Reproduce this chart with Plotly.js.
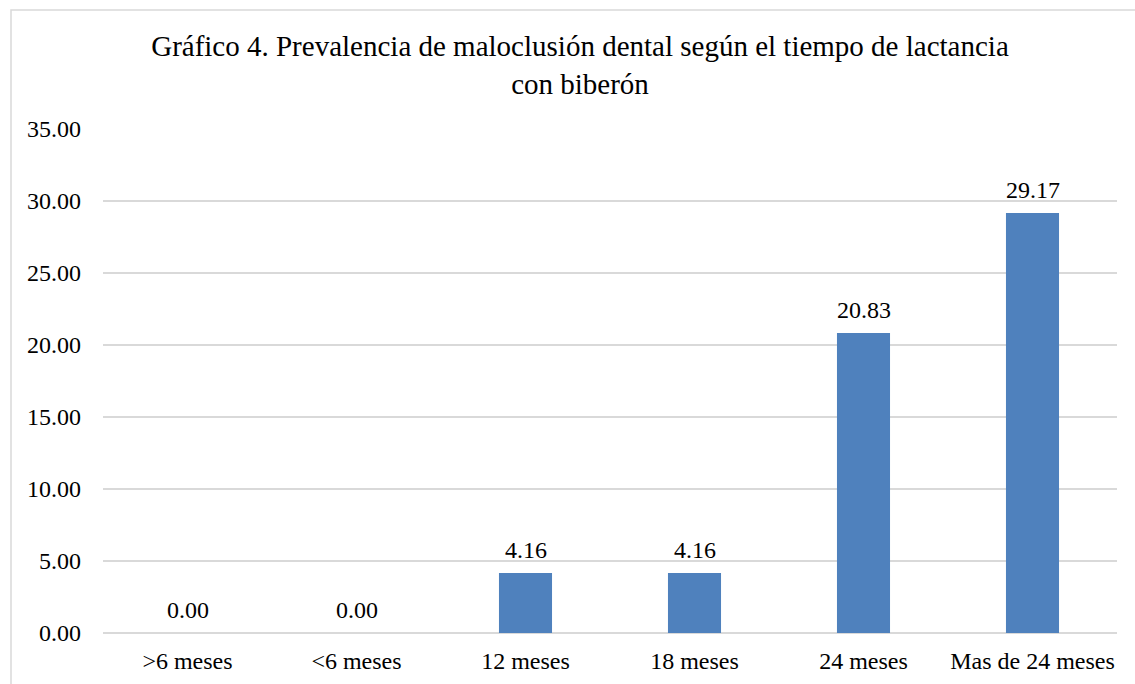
<!DOCTYPE html>
<html>
<head>
<meta charset="utf-8">
<script src="https://cdn.plot.ly/plotly-3.0.1.min.js"></script>
<style>html,body{margin:0;padding:0;background:#fff;}#chart{width:1135px;height:684px;}</style>
</head>
<body>
<div id="chart"></div>
<script>
const categories = [">6 meses", "<6 meses", "12 meses", "18 meses", "24 meses", "Mas de 24 meses"];
const values = [0.00, 0.00, 4.16, 4.16, 20.83, 29.17];
const yTickVals = [0, 5, 10, 15, 20, 25, 30, 35];

const FONT = "Times New Roman, Liberation Serif, DejaVu Serif, serif";

const trace = {
  type: 'bar',
  x: categories,
  y: values,
  marker: {color: '#4f81bd'},
  hoverinfo: 'none'
};

const labelAnnotations = categories.map((c, i) => ({
  x: c, y: values[i], xref: 'x', yref: 'y',
  text: values[i].toFixed(2),
  showarrow: false,
  yanchor: 'bottom',
  yshift: 8,
  font: {family: FONT, size: 24, color: '#000'}
}));

const layout = {
  width: 1135,
  height: 684,
  margin: {l: 103, r: 18, t: 129, b: 51},
  paper_bgcolor: '#fff',
  plot_bgcolor: '#fff',
  font: {family: FONT, color: '#000', size: 24},
  title: {
    text: 'Gráfico 4. Prevalencia de maloclusión dental según el tiempo de lactancia<br>con biberón',
    font: {family: FONT, size: 29, color: '#000'},
    x: 0.511, xref: 'container', xanchor: 'center',
    y: 0.918, yref: 'container', yanchor: 'top'
  },
  bargap: 0.686,
  showlegend: false,
  xaxis: {
    type: 'category',
    showgrid: false,
    showline: false,
    zeroline: false,
    ticks: '',
    ticklabelstandoff: 11,
    tickfont: {family: FONT, size: 24, color: '#000'},
    automargin: false
  },
  yaxis: {
    range: [0, 35],
    tickvals: yTickVals,
    ticktext: yTickVals.map(v => v.toFixed(2)),
    showgrid: true,
    gridcolor: '#d9d9d9',
    gridwidth: 1.5,
    zeroline: true,
    zerolinecolor: '#d9d9d9',
    zerolinewidth: 1.5,
    showline: false,
    ticks: '',
    ticklabelstandoff: 21,
    tickfont: {family: FONT, size: 24, color: '#000'},
    automargin: false
  },
  annotations: labelAnnotations,
  shapes: [{
    type: 'rect', xref: 'paper', yref: 'paper',
    x0: -92/1014, x1: 1.1, y0: -0.2, y1: 1 + 119/504,
    line: {color: '#d9d9d9', width: 1.5},
    fillcolor: 'rgba(0,0,0,0)',
    layer: 'below'
  }]
};

Plotly.newPlot('chart', [trace], layout, {displayModeBar: false, staticPlot: true});
</script>
</body>
</html>
